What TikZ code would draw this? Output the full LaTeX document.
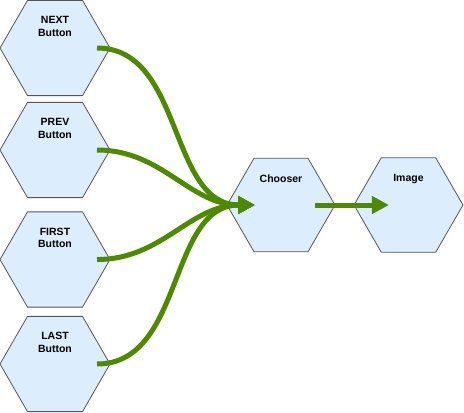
\documentclass[tikz,border=0pt]{standalone}
\usepackage{fontspec}
\setmainfont{Liberation Sans}
\usetikzlibrary{shapes.geometric,arrows.meta}
\definecolor{hexfill}{HTML}{DCEEFD}
\definecolor{hexline}{HTML}{555555}
\definecolor{flowgreen}{HTML}{4D8A00}
\begin{document}
\begin{tikzpicture}[
    x=1pt, y=-1pt,
    hexbox/.style={regular polygon, regular polygon sides=6, minimum size=110pt,
      inner sep=0pt, outer sep=0pt, draw=hexline, fill=hexfill, line width=0.8pt},
    hexlabel/.style={anchor=north, yshift=-16pt, inner sep=0pt, align=center,
      font=\bfseries\fontsize{10.5}{12.5}\selectfont},
    flow/.style={draw=flowgreen, line width=5pt, -{Triangle[length=17pt,width=17pt]}},
]
    \useasboundingbox (0,0) rectangle (464,413);

    % Button hexagons (left column)
    \node[hexbox, label={[hexlabel]north:NEXT\\Button}] (next) at (55,48) {};
    \node[hexbox, label={[hexlabel]north:PREV\\Button}] (prev) at (55,150) {};
    \node[hexbox, label={[hexlabel]north:FIRST\\Button}] (first) at (55,259.5) {};
    \node[hexbox, label={[hexlabel]north:LAST\\Button}] (last) at (55,364) {};

    % Chooser and Image
    \node[hexbox, minimum size=108pt, label={[hexlabel]north:Chooser}] (chooser) at (281,205) {};
    \node[hexbox, minimum size=109pt, label={[hexlabel]north:Image}] (image) at (408.5,205) {};

    % Where the curves meet
    \coordinate (chin) at ([xshift=-26pt]chooser.center);

    % Curved flows into the chooser
    \draw[flow] ([xshift=-13pt]next.east) to[out=0, in=180] (chin);
    \draw[flow] ([xshift=-13pt]prev.east) to[out=0, in=180] (chin);
    \draw[flow] ([xshift=-13pt]first.east) to[out=0, in=180] (chin);
    \draw[flow] ([xshift=-13pt]last.east) to[out=0, in=180] (chin);

    % Chooser to image
    \draw[flow] ([xshift=-20pt]chooser.east) -- ([xshift=35pt]image.west);
\end{tikzpicture}
\end{document}
